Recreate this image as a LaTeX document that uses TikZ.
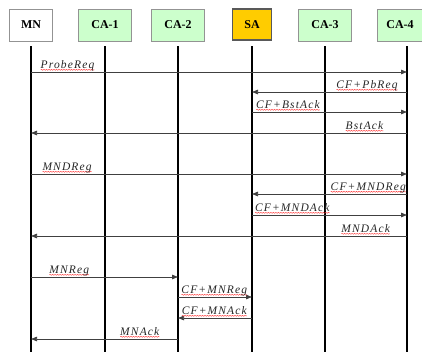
\documentclass[tikz,border=0pt]{standalone}
\usepackage{fontspec}
\setmainfont{Liberation Serif}
\newfontfamily\msgfont[LetterSpace=10]{Liberation Serif}
\usetikzlibrary{arrows.meta,positioning,decorations.pathmorphing}

\definecolor{cagreen}{RGB}{204,255,204}
\definecolor{sagold}{RGB}{255,204,0}

\begin{document}
\begin{tikzpicture}[
  x=1pt, y=-1pt,
  ent/.style={draw=gray!85, fill=cagreen, minimum width=53pt, minimum height=32pt,
    inner sep=2pt, font=\fontsize{12}{14}\selectfont\bfseries},
  life/.style={line width=1.4pt},
  msg/.style={draw=black!75, line width=0.75pt, -{Triangle[length=6pt,width=4.5pt]}},
  squig/.style={-, draw=red!80, line width=0.4pt, decorate,
    decoration={snake, amplitude=0.5pt, segment length=2.5pt}},
  lbl/.style={font=\msgfont\fontsize{11.5}{13}\selectfont\itshape, text=black!85,
    inner sep=0pt, text depth=3pt, anchor=base, yshift=4pt,
    path picture={\draw[squig] ([yshift=1.2pt]path picture bounding box.south west)
      -- ([yshift=1.2pt]path picture bounding box.south east);}}
]
\useasboundingbox (0,0) rectangle (422,351);

% lifeline tops
\coordinate (lmn) at (31,46);
\coordinate (lca1) at (105,46);
\coordinate (lca2) at (178,46);
\coordinate (lsa) at (252,46);
\coordinate (lca3) at (325,46);
\coordinate (lca4) at (407,46);

% entities
\node[ent, fill=white, minimum width=43pt, above=5pt of lmn] (mn) {MN};
\node[ent, above=5pt of lca1] (ca1) {CA-1};
\node[ent, above=5pt of lca2] (ca2) {CA-2};
\node[ent, fill=sagold, draw=black!65, line width=1.5pt, minimum width=39pt,
  minimum height=31pt, above=5.5pt of lsa] (sa) {SA};
\node[ent, above=5pt of lca3] (ca3) {CA-3};
\node[ent, minimum width=46pt, above=5pt of lca4, xshift=-7pt] (ca4) {CA-4};

% lifelines
\draw[life] (lmn) -- (lmn |- 0,352);
\draw[life] (lca1) -- (lca1 |- 0,352);
\draw[life] (lca2) -- (lca2 |- 0,352);
\draw[life] (lsa) -- (lsa |- 0,352);
\draw[life] (lca3) -- (lca3 |- 0,352);
\draw[life] (lca4) -- (lca4 |- 0,352);

% probe
\draw[msg] (lmn |- 0,72) -- node[lbl, pos=.097] {ProbeReq} (lca4 |- 0,72);
\draw[msg] (lca4 |- 0,92) -- node[lbl, pos=.258] {CF+PbReq} (lsa |- 0,92);
\draw[msg] (lsa |- 0,112) -- node[lbl, pos=.232] {CF+BstAck} (lca4 |- 0,112);
\draw[msg] (lca4 |- 0,133) -- node[lbl, pos=.113] {BstAck} (lmn |- 0,133);

% MND registration
\draw[msg] (lmn |- 0,174) -- node[lbl, pos=.096] {MNDReg} (lca4 |- 0,174);
\draw[msg] (lca4 |- 0,194) -- node[lbl, pos=.25] {CF+MNDReg} (lsa |- 0,194);
\draw[msg] (lsa |- 0,215) -- node[lbl, pos=.26] {CF+MNDAck} (lca4 |- 0,215);
\draw[msg] (lca4 |- 0,236) -- node[lbl, pos=.11] {MNDAck} (lmn |- 0,236);

% MN registration
\draw[msg] (lmn |- 0,277) -- node[lbl, pos=.26] {MNReg} (lca2 |- 0,277);
\draw[msg] (lca2 |- 0,297) -- node[lbl, pos=.49] {CF+MNReg} (lsa |- 0,297);
\draw[msg] (lsa |- 0,318) -- node[lbl, pos=.51] {CF+MNAck} (lca2 |- 0,318);
\draw[msg] (lca2 |- 0,339) -- node[lbl, pos=.26] {MNAck} (lmn |- 0,339);
\end{tikzpicture}
\end{document}
